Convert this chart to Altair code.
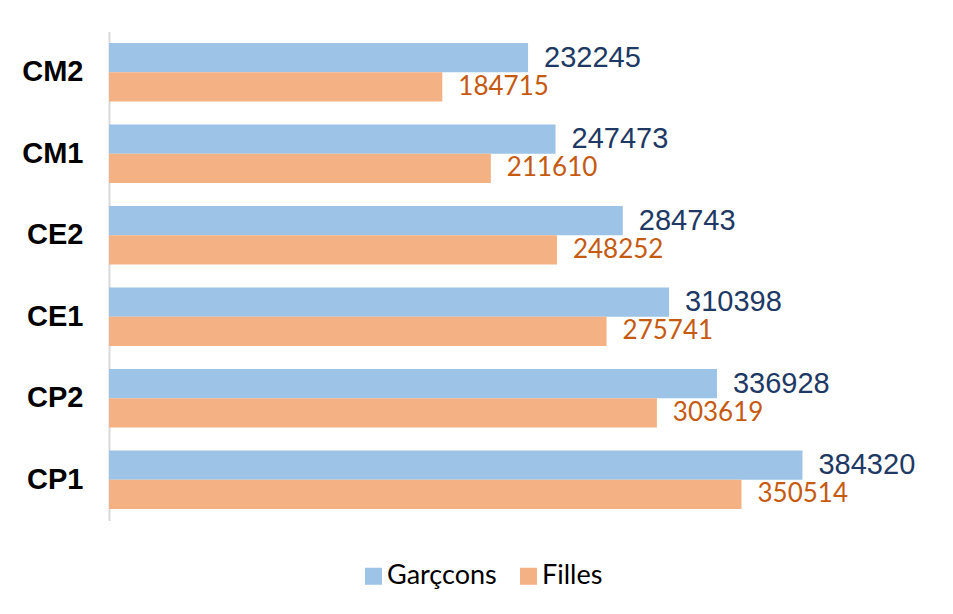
import altair as alt
import pandas as pd

categories = ["CM2", "CM1", "CE2", "CE1", "CP2", "CP1"]
garcons = [232245, 247473, 284743, 310398, 336928, 384320]
filles = [184715, 211610, 248252, 275741, 303619, 350514]
series = ["Garçcons", "Filles"]
colors = ["#9DC3E6", "#F4B183"]
label_colors = ["#203864", "#C55A11"]

rows = []
for c, g, f in zip(categories, garcons, filles):
    rows.append({"cat": c, "series": series[0], "value": g})
    rows.append({"cat": c, "series": series[1], "value": f})
df = pd.DataFrame(rows)

y_enc = alt.Y("cat:N", sort=categories,
              scale=alt.Scale(paddingInner=0.28, paddingOuter=0.14),
              axis=alt.Axis(title=None, ticks=False, labelFont="Liberation Sans",
                            labelFontWeight="bold", labelFontSize=29, labelColor="#000000",
                            labelPadding=26, domainColor="#D9D9D9", domainWidth=2))
x_enc = alt.X("value:Q", scale=alt.Scale(domain=[0, 450000], nice=False), axis=None)
yoff = alt.YOffset("series:N", sort=series, scale=alt.Scale(paddingInner=0, paddingOuter=0))

bars = alt.Chart(df).mark_bar().encode(
    y=y_enc, x=x_enc, yOffset=yoff,
    color=alt.Color("series:N", sort=series,
                    scale=alt.Scale(domain=series, range=colors),
                    legend=alt.Legend(title=None, orient="none", direction="horizontal",
                                      legendX=251, legendY=531,
                                      symbolType="square", symbolSize=289,
                                      symbolStrokeWidth=0,
                                      labelFont="Lato", labelFontSize=27,
                                      labelColor="#000000", labelOffset=0,
                                      columnPadding=18)),
)

text_g = alt.Chart(df).transform_filter(alt.datum.series == series[0]).mark_text(
    align="left", baseline="middle", dx=16, font="Liberation Sans", fontSize=29,
    color=label_colors[0]
).encode(y=y_enc, x=x_enc, yOffset=yoff, text="value:Q")

text_f = alt.Chart(df).transform_filter(alt.datum.series == series[1]).mark_text(
    align="left", baseline="middle", dx=16, font="Lato", fontSize=26,
    color=label_colors[1]
).encode(y=y_enc, x=x_enc, yOffset=yoff, text="value:Q")

chart = alt.layer(bars, text_g, text_f).properties(
    width=812, height=489,
    autosize=alt.AutoSizeParams(type="none"),
    padding={"left": 101, "top": 23.5, "right": 20, "bottom": 80},
).configure_view(stroke=None)

chart.save("out.html", embed_options={"renderer": "svg", "actions": False})
